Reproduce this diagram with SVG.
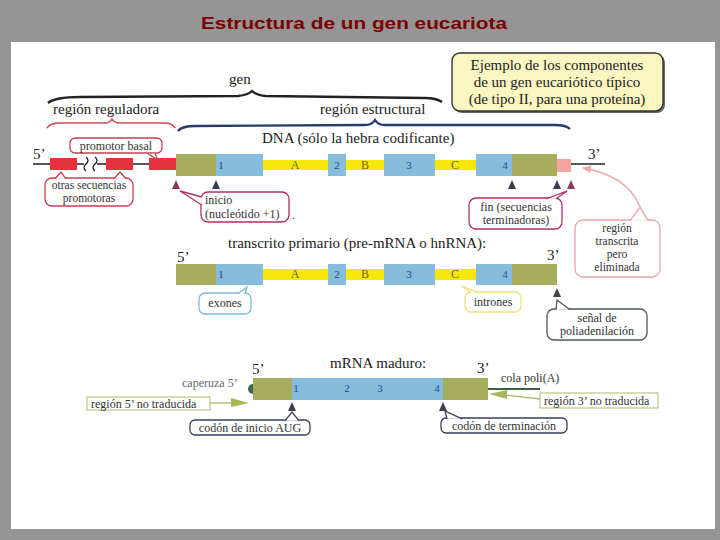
<svg xmlns="http://www.w3.org/2000/svg" width="720" height="540" viewBox="0 0 720 540">
<defs>
<style>
.t{font-family:"Liberation Serif","Times New Roman",serif;fill:#222}
.lbl{font-size:15px}
.sm{font-size:12px;fill:#333}
.xs{font-size:11.5px;fill:#333}
.num{font-size:11px;fill:#2a4a8c;text-anchor:middle}
.abc{font-size:12px;fill:#6b6a1c;text-anchor:middle}
.blue{fill:#86bcdc}
.olive{fill:#a6ae5e}
.yel{fill:#f6e60a}
.red{fill:#e6323c}
.tri1{fill:#8a3a5c}
.tri2{fill:#3b3f55}
.co{fill:#fff;stroke-width:1.3}
</style>
<marker id="pinkArrow" markerWidth="10" markerHeight="10" refX="8" refY="5" orient="auto" markerUnits="userSpaceOnUse">
<path d="M0 1 L9 5 L0 9 Z" fill="#eea9a9"/>
</marker>
</defs>
<rect x="0" y="0" width="720" height="540" fill="#959595"/>
<rect x="11" y="42" width="704" height="487" fill="#ffffff"/>
<text x="354" y="29" text-anchor="middle" font-family="'Liberation Sans Narrow','Liberation Sans',Arial,sans-serif" font-weight="bold" font-size="17" fill="#7a0000" textLength="306" lengthAdjust="spacingAndGlyphs">Estructura de un gen eucariota</text>

<g id="braces" fill="none">
<path d="M48 103 Q55 97 80 97 L238 96 Q248 95 252 91 Q256 95 266 96 L425 98 Q436 98 442 102" stroke="#222" stroke-width="2.4"/>
<path d="M47 128 Q50 123 60 123 L105 123 Q110 123 112 119 Q114 123 120 123 L165 123 Q172 123 175 128" stroke="#d9454f" stroke-width="1.5"/>
<path d="M178 131 Q182 126 195 126 L365 125 Q372 125 375 120 Q378 125 385 125 L555 125 Q566 125 570 129" stroke="#2b3a6b" stroke-width="2.4"/>
</g>
<g id="labels-top">
<text class="t lbl" x="229" y="84">gen</text>
<text class="t lbl" x="53" y="114">región reguladora</text>
<text class="t lbl" x="320" y="114">región estructural</text>
<text class="t lbl" x="262" y="143">DNA (sólo la hebra codificante)</text>
</g>

<g id="ejemplo">
<rect x="454" y="55" width="211" height="58" rx="8" fill="#666"/>
<rect x="452" y="53" width="211" height="58" rx="8" fill="#faf6c2" stroke="#333" stroke-width="1.4"/>
<text class="t lbl" x="557" y="70" text-anchor="middle">Ejemplo de los componentes</text>
<text class="t lbl" x="557" y="87" text-anchor="middle">de un gen eucariótico típico</text>
<text class="t lbl" x="557" y="104" text-anchor="middle">(de tipo II, para una proteína)</text>
</g>

<g id="dna">
<text class="t lbl" x="33" y="159">5’</text>
<line x1="33" y1="164" x2="84" y2="164" stroke="#222" stroke-width="1.5"/>
<line x1="97" y1="164" x2="176" y2="164" stroke="#222" stroke-width="1.5"/>
<path d="M86 157 q4 3.5 0 7 q-4 3.5 0 7 M95 157 q4 3.5 0 7 q-4 3.5 0 7" fill="none" stroke="#222" stroke-width="1.3"/>
<rect class="red" x="50" y="158" width="27" height="12"/>
<rect class="red" x="106" y="158" width="27" height="12"/>
<rect class="red" x="149" y="158" width="27" height="12"/>
<rect class="yel" x="263" y="160" width="213" height="10"/>
<rect class="olive" x="176" y="154" width="40" height="22"/>
<rect class="blue" x="216" y="154" width="47" height="22"/>
<rect class="blue" x="328" y="154" width="18" height="22"/>
<rect class="blue" x="384" y="154" width="51" height="22"/>
<rect class="blue" x="476" y="154" width="36" height="22"/>
<rect class="olive" x="512" y="154" width="45" height="22"/>
<rect x="557" y="159" width="14" height="13" fill="#f4a3a0"/>
<line x1="571" y1="164" x2="605" y2="164" stroke="#222" stroke-width="1.5"/>
<text class="t lbl" x="588" y="159">3’</text>
<text class="t num" x="221" y="169">1</text>
<text class="t abc" x="295" y="169">A</text>
<text class="t num" x="337" y="169">2</text>
<text class="t abc" x="365" y="169">B</text>
<text class="t num" x="409" y="169">3</text>
<text class="t abc" x="455" y="169">C</text>
<text class="t num" x="505" y="169">4</text>
<polygon class="tri1" points="172,189 176,180 180,189"/>
<polygon class="tri2" points="212,189 216,180 220,189"/>
<polygon class="tri2" points="508,189 512,180 516,189"/>
<polygon class="tri2" points="553,189 557,180 561,189"/>
<polygon class="tri1" points="567,189 571,180 575,189"/>
</g>

<g id="promotor-basal">
<rect class="co" x="70" y="138" width="92" height="15" rx="5" stroke="#c84050"/>
<path class="co" d="M148 153.8 L158 160 L155 153.8" stroke="#c84050"/>
<text class="t sm" x="116" y="149.5" text-anchor="middle">promotor basal</text>
</g>
<g id="otras-secuencias">
<rect class="co" x="45" y="178" width="88" height="28" rx="7" stroke="#c84050"/>
<path class="co" d="M55 178.8 L61 172 L66 178.8" stroke="#c84050"/>
<path class="co" d="M114 178.8 L120 172 L126 178.8" stroke="#c84050"/>
<text class="t xs" x="89" y="189" text-anchor="middle">otras secuencias</text>
<text class="t xs" x="89" y="202" text-anchor="middle">promotoras</text>
</g>
<g id="inicio">
<rect class="co" x="201" y="192" width="88" height="30" rx="7" stroke="#b0306a"/>
<path class="co" d="M201.8 197 L180 191 L201.8 205" stroke="#b0306a"/>
<text class="t sm" x="205" y="204">inicio</text>
<text class="t sm" x="205" y="218">(nucleótido +1)</text>
<text class="t sm" x="292" y="219">.</text>
</g>
<g id="fin">
<rect class="co" x="469" y="198" width="93" height="31" rx="7" stroke="#b0306a"/>
<path class="co" d="M546 198.8 L567 191 L556 198.8" stroke="#b0306a"/>
<text class="t sm" x="516" y="211" text-anchor="middle">fin (secuencias</text>
<text class="t sm" x="516" y="224" text-anchor="middle">terminadoras)</text>
</g>
<g id="region-transcrita">
<rect class="co" x="575" y="220" width="85" height="57" rx="8" stroke="#e9a5a5"/>
<path class="co" d="M630 220.8 L640 207 L648 220.8" stroke="#e9a5a5"/>
<text class="t xs" x="617" y="232" text-anchor="middle">región</text>
<text class="t xs" x="617" y="245" text-anchor="middle">transcrita</text>
<text class="t xs" x="617" y="258" text-anchor="middle">pero</text>
<text class="t xs" x="617" y="271" text-anchor="middle">eliminada</text>
</g>

<g id="transcrito">
<text class="t lbl" x="228" y="248">transcrito primario (pre-mRNA o hnRNA):</text>
<text class="t lbl" x="177" y="262">5’</text>
<text class="t lbl" x="547" y="260">3’</text>
<rect class="yel" x="263" y="269" width="213" height="11"/>
<rect class="olive" x="176" y="264" width="40" height="21"/>
<rect class="blue" x="216" y="264" width="47" height="21"/>
<rect class="blue" x="328" y="264" width="18" height="21"/>
<rect class="blue" x="384" y="264" width="51" height="21"/>
<rect class="blue" x="476" y="264" width="36" height="21"/>
<rect class="olive" x="512" y="264" width="45" height="21"/>
<text class="t num" x="221" y="278">1</text>
<text class="t abc" x="295" y="278">A</text>
<text class="t num" x="337" y="278">2</text>
<text class="t abc" x="365" y="278">B</text>
<text class="t num" x="409" y="278">3</text>
<text class="t abc" x="455" y="278">C</text>
<text class="t num" x="505" y="278">4</text>
<polygon fill="#3e4a40" points="553,297 557,288 561,297"/>
</g>
<g id="exones">
<rect class="co" x="199" y="293" width="52" height="21" rx="6" stroke="#80bbd8"/>
<path class="co" d="M238 293.8 L247 287 L245 293.8" stroke="#80bbd8"/>
<text class="t sm" x="225" y="307" text-anchor="middle">exones</text>
</g>
<g id="intrones">
<rect class="co" x="465" y="292" width="56" height="20" rx="6" stroke="#ece27a"/>
<path class="co" d="M471 292.8 L461 286 L479 292.8" stroke="#ece27a"/>
<text class="t sm" x="493" y="306" text-anchor="middle">intrones</text>
</g>
<g id="senal">
<rect class="co" x="547" y="309" width="100" height="31" rx="7" stroke="#4e5b4e"/>
<path class="co" d="M556 309.8 L557 300 L570 309.8" stroke="#4e5b4e"/>
<text class="t sm" x="597" y="322" text-anchor="middle">señal de</text>
<text class="t sm" x="597" y="335" text-anchor="middle">poliadenilación</text>
</g>

<g id="mrna">
<text class="t lbl" x="330" y="368">mRNA maduro:</text>
<text class="t lbl" x="252" y="374">5’</text>
<text class="t lbl" x="477" y="373">3’</text>
<text class="t sm" x="182" y="387" style="fill:#666">caperuza 5’</text>
<path d="M253 384 A5 5 0 0 0 253 394 Z" fill="#3e6b4a"/>
<rect class="olive" x="253" y="378" width="39" height="22"/>
<rect class="blue" x="292" y="378" width="151" height="22"/>
<rect class="olive" x="443" y="378" width="45" height="22"/>
<text class="t num" x="296" y="392">1</text>
<text class="t num" x="347" y="392">2</text>
<text class="t num" x="380" y="392">3</text>
<text class="t num" x="437" y="392">4</text>
<line x1="488" y1="389" x2="540" y2="389" stroke="#3f5f3f" stroke-width="2"/>
<text class="t sm" x="501" y="382">cola poli(A)</text>
<polygon class="tri2" points="288,411 292,402 296,411"/>
<polygon class="tri2" points="439,411 443,402 447,411"/>
</g>
<g id="utr5">
<rect x="87" y="397" width="123" height="13" fill="#fff" stroke="#a9bb6a" stroke-width="1"/>
<text class="t sm" x="91" y="407.5">región 5’ no traducida</text>
</g>
<g id="utr3">
<rect x="540" y="393" width="118" height="15" fill="#fff" stroke="#a9bb6a" stroke-width="1"/>
<text class="t sm" x="544" y="404.5">región 3’ no traducida</text>
</g>
<g id="codon-inicio">
<rect class="co" x="190" y="420" width="120" height="15" rx="5" stroke="#3a3f5a"/>
<path class="co" d="M285 420.8 L292 412 L299 420.8" stroke="#3a3f5a"/>
<text class="t sm" x="250" y="431.5" text-anchor="middle">codón de inicio AUG</text>
</g>
<g id="codon-terminacion">
<rect class="co" x="441" y="418" width="126" height="15" rx="5" stroke="#3a3f5a"/>
<path class="co" d="M447 418.8 L445 411 L462 418.8" stroke="#3a3f5a"/>
<text class="t sm" x="504" y="429.5" text-anchor="middle">codón de terminación</text>
</g>

<g id="connectors" fill="none">
<path d="M640 207 Q628 176 583 168" stroke="#eea9a9" stroke-width="1.5" marker-end="url(#pinkArrow)"/>
<line x1="210" y1="403" x2="234" y2="403" stroke="#a9bb6a" stroke-width="1.3"/>
<polygon points="231,398 249,403 231,407" fill="#a5b85a" stroke="none"/>
<line x1="540" y1="399" x2="505" y2="395" stroke="#a9bb6a" stroke-width="1.3"/>
<polygon points="507,390 489,394 507,399" fill="#a5b85a" stroke="none"/>
</g>
</svg>
